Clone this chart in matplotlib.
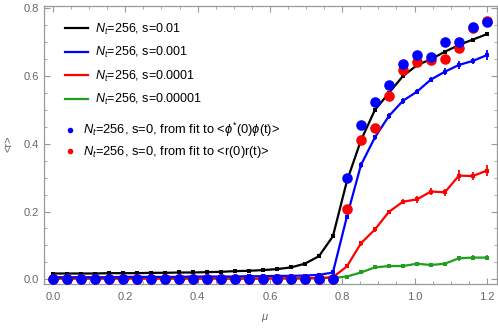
import numpy as np
import matplotlib
matplotlib.use('Agg')
import matplotlib.pyplot as plt
from matplotlib.ticker import MultipleLocator
from matplotlib.lines import Line2D

plt.rcParams['font.family'] = ['Liberation Sans', 'DejaVu Sans']
plt.rcParams['mathtext.fontset'] = 'custom'
plt.rcParams['mathtext.it'] = 'Liberation Sans:italic'
plt.rcParams['mathtext.rm'] = 'Liberation Sans'

# mu grid (32 points between 0 and 1.2)
mu = [0.0, 0.0387, 0.0774, 0.1161, 0.1548, 0.1935, 0.2323, 0.2710, 0.3097, 0.3484,
      0.3871, 0.4258, 0.4645, 0.5032, 0.5419, 0.5806, 0.6194, 0.6581, 0.6968, 0.7355,
      0.7742, 0.8129, 0.8516, 0.8903, 0.9290, 0.9677, 1.0065, 1.0452, 1.0839, 1.1226,
      1.1613, 1.2]

# s=0.01
r_s1 = [0.017, 0.017, 0.017, 0.017, 0.018, 0.018, 0.018, 0.019, 0.019, 0.020,
        0.020, 0.021, 0.022, 0.024, 0.025, 0.027, 0.030, 0.035, 0.046, 0.068,
        0.127, 0.290, 0.410, 0.500, 0.550, 0.600, 0.632, 0.650, 0.672, 0.692,
        0.708, 0.724]
e_s1 = [0.001] * 20 + [0.003, 0.003, 0.003, 0.003, 0.003, 0.003, 0.003, 0.003, 0.003, 0.003, 0.003, 0.003]

# s=0.001
r_s2 = [0.006, 0.006, 0.006, 0.006, 0.006, 0.007, 0.007, 0.007, 0.007, 0.007,
        0.008, 0.008, 0.008, 0.008, 0.009, 0.009, 0.010, 0.010, 0.011, 0.013,
        0.020, 0.185, 0.337, 0.419, 0.482, 0.527, 0.554, 0.590, 0.613, 0.633,
        0.645, 0.662]
e_s2 = [0.002] * 20 + [0.003, 0.006, 0.008, 0.008, 0.008, 0.008, 0.008, 0.008, 0.010, 0.012, 0.008, 0.015]

# s=0.0001
r_s3 = [0.002, 0.002, 0.002, 0.002, 0.002, 0.002, 0.002, 0.002, 0.002, 0.002,
        0.002, 0.002, 0.002, 0.002, 0.002, 0.002, 0.003, 0.003, 0.003, 0.004,
        0.006, 0.038, 0.106, 0.147, 0.199, 0.229, 0.236, 0.259, 0.257, 0.306,
        0.305, 0.321]
e_s3 = [0.001] * 20 + [0.002, 0.005, 0.007, 0.007, 0.007, 0.008, 0.010, 0.010, 0.010, 0.016, 0.012, 0.016]

# s=0.00001
r_s4 = [0.002, 0.002, 0.002, 0.002, 0.002, 0.002, 0.002, 0.002, 0.002, 0.002,
        0.002, 0.002, 0.002, 0.002, 0.002, 0.002, 0.002, 0.002, 0.002, 0.003,
        0.004, 0.008, 0.020, 0.035, 0.039, 0.039, 0.046, 0.042, 0.046, 0.062,
        0.064, 0.064]
e_s4 = [0.001] * 20 + [0.002, 0.003, 0.004, 0.005, 0.005, 0.006, 0.006, 0.006, 0.006, 0.007, 0.007, 0.007]

# s=0 fits
fit_phi = [0.0] * 21 + [0.300, 0.455, 0.524, 0.574, 0.636, 0.662, 0.657, 0.701, 0.701, 0.746, 0.760]
fit_r = [0.0] * 21 + [0.209, 0.411, 0.446, 0.542, 0.618, 0.642, 0.649, 0.652, 0.682, 0.741, 0.762]

labels = [r'$N_t$=256, s=0.01', r'$N_t$=256, s=0.001', r'$N_t$=256, s=0.0001',
          r'$N_t$=256, s=0.00001']
fit_labels = [r'$N_t$=256, s=0, from fit to <$\phi^{*}$(0)$\phi$(t)>',
              r'$N_t$=256, s=0, from fit to <r(0)r(t)>']
colors = ['black', '#0000ff', '#ff0000', '#1ea01e']

gray = '#999999'
fig = plt.figure(figsize=(4.98, 3.29), dpi=100)
ax = fig.add_axes([44.3/498, 1-284/329, (497-44.3)/498, (284-5.7)/329])

ax.plot(mu, fit_r, 'o', color='#ff0000', ms=7.6, mec='none', zorder=4)
ax.plot(mu, fit_phi, 'o', color='#0000ff', ms=7.6, mec='none', zorder=5)

series = [(r_s4, e_s4, colors[3]), (r_s3, e_s3, colors[2]), (r_s2, e_s2, colors[1]), (r_s1, e_s1, colors[0])]
for y, e, c in series:
    ax.errorbar(mu, y, yerr=e, color=c, lw=1.6, marker='s', ms=2.2, mew=0,
                capsize=2.4, capthick=1.3, elinewidth=1.3, zorder=3)

ax.set_xlim(-0.024, 1.228)
ax.set_ylim(-0.014, 0.808)
ax.xaxis.set_major_locator(MultipleLocator(0.2))
ax.xaxis.set_minor_locator(MultipleLocator(0.05))
ax.yaxis.set_major_locator(MultipleLocator(0.2))
ax.yaxis.set_minor_locator(MultipleLocator(0.05))
ax.xaxis.set_major_formatter(plt.FuncFormatter(lambda v, p: '%.1f' % v))
ax.yaxis.set_major_formatter(plt.FuncFormatter(lambda v, p: '%.1f' % v))
ax.tick_params(which='both', direction='in', top=True, right=True, color=gray,
               labelcolor='#666666', labelsize=8)
ax.tick_params(which='major', length=4.5, width=0.8)
ax.tick_params(which='minor', length=2.5, width=0.6)
ax.tick_params(axis='x', pad=6)
ax.tick_params(axis='y', pad=4)
for sp in ax.spines.values():
    sp.set_color(gray)
    sp.set_linewidth(0.9)

h1 = [Line2D([], [], color=c, lw=1.6) for c in colors]
leg1 = ax.legend(h1, labels, loc='upper left', bbox_to_anchor=(0.0457, 0.942),
                 frameon=False, fontsize=9, handlelength=1.87, handletextpad=0.54,
                 labelspacing=0.66, borderpad=0, borderaxespad=0)
ax.add_artist(leg1)
h2 = [Line2D([], [], color='#0000ff', marker='o', ls='none', ms=4.0, mec='none'),
      Line2D([], [], color='#ff0000', marker='o', ls='none', ms=4.0, mec='none')]
ax.legend(h2, fit_labels, loc='upper left', bbox_to_anchor=(0.0457, 0.586),
          frameon=False, fontsize=9.3, handlelength=0.78, handletextpad=0.62,
          labelspacing=0.38, borderpad=0, borderaxespad=0, numpoints=1)

fig.text(8/498, 1-144/329, '<r>', rotation=90, ha='center', va='center',
         color='#666666', fontsize=8)
fig.text(265/498, 1-318/329, r'$\mu$', ha='center', va='center', color='#666666', fontsize=8)

fig.savefig('out.png', dpi=100)
